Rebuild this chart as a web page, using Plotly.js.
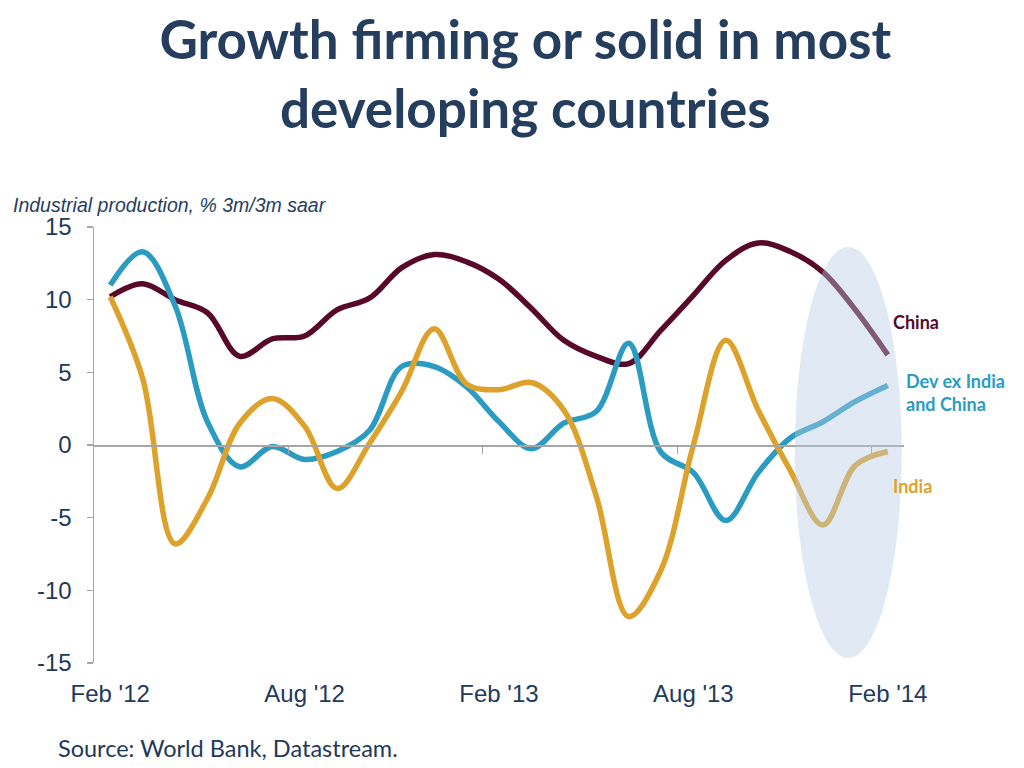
<!DOCTYPE html>
<html>
<head>
<meta charset="utf-8">
<script src="https://cdn.plot.ly/plotly-3.0.1.min.js"></script>
<style>
  html, body { margin: 0; padding: 0; background: #ffffff; }
  #chart { width: 1024px; height: 768px; }
</style>
</head>
<body>
<div id="chart"></div>
<script>
// Monthly observations, Feb 2012 .. Feb 2014
const months = ["Feb-12","Mar-12","Apr-12","May-12","Jun-12","Jul-12","Aug-12","Sep-12","Oct-12","Nov-12","Dec-12","Jan-13",
                "Feb-13","Mar-13","Apr-13","May-13","Jun-13","Jul-13","Aug-13","Sep-13","Oct-13","Nov-13","Dec-13","Jan-14","Feb-14"];
const china   = [10.2, 11.1, 10.0, 9.1, 6.1, 7.3, 7.5, 9.3, 10.1, 12.2, 13.1, 12.6, 11.4, 9.4, 7.2, 6.1, 5.6, 7.9, 10.3, 12.7, 13.9, 13.3, 11.9, 9.3, 6.2];
const devExIC = [11.0, 13.3, 9.6, 1.6, -1.5, -0.1, -1.0, -0.45, 1.0, 5.4, 5.4, 4.0, 1.6, -0.25, 1.5, 2.3, 7.0, -0.5, -1.9, -5.2, -1.9, 0.5, 1.6, 3.0, 4.1];
const india   = [10.2, 4.6, -6.8, -3.7, 1.5, 3.2, 1.3, -3.0, 0.1, 3.7, 8.0, 4.2, 3.8, 4.3, 2.4, -3.5, -11.8, -8.6, 0.0, 7.2, 2.4, -1.8, -5.5, -1.4, -0.45];

const tickPos  = [0, 6, 12, 18, 24];
const tickText = ["Feb '12", "Aug '12", "Feb '13", "Aug '13", "Feb '14"];
const yTicks   = [15, 10, 5, 0, -5, -10, -15];
const yTickText = ["15", "10", "5", "0", "-5", "-10", "-15"];
const minorTickPos = [5.5, 11.5, 17.5, 23.5];

const xIdx = months.map((m, i) => i);

const navy = '#22395a';
const cChina = '#58092a';
const cDev = '#2b9bc2';
const cIndia = '#dca22c';

function series(name, y, color) {
  return {
    type: 'scatter', mode: 'lines', name: name,
    x: xIdx, y: y,
    line: { color: color, width: 5.5, shape: 'spline', smoothing: 1 },
    hoverinfo: 'x+y+name', showlegend: false
  };
}

const data = [
  series('China', china, cChina),
  series('Dev ex India and China', devExIC, cDev),
  series('India', india, cIndia),
  { type: 'scatter', mode: 'lines', x: [], y: [], xaxis: 'x2', yaxis: 'y', showlegend: false, hoverinfo: 'skip' }
];

const layout = {
  width: 1024, height: 768,
  paper_bgcolor: '#ffffff', plot_bgcolor: 'rgba(0,0,0,0)',
  margin: { l: 94, r: 120, t: 227, b: 105 },
  showlegend: false,
  title: {
    text: 'Growth firming or solid in most<br>developing countries',
    font: { family: 'Lato, "Open Sans", sans-serif', size: 53, color: '#253e5e', weight: 700 },
    xref: 'container', yref: 'container', x: 0.513, xanchor: 'center', y: 0.9235, yanchor: 'top'
  },
  xaxis: {
    range: [-0.5, 24.5], fixedrange: true,
    showgrid: false, zeroline: false, showline: false,
    tickmode: 'array', tickvals: tickPos, ticktext: tickText, ticks: '',
    ticklabelstandoff: 14,
    tickfont: { family: '"Liberation Sans", Arial, sans-serif', size: 24, color: navy }
  },
  xaxis2: {
    overlaying: 'x', anchor: 'free', position: 0.5, side: 'bottom',
    range: [-0.5, 24.5], fixedrange: true,
    showgrid: false, zeroline: false, showline: true, linecolor: '#a6a6a6', linewidth: 1.5,
    tickmode: 'array', tickvals: minorTickPos, ticks: 'outside', ticklen: 7, tickwidth: 1.2, tickcolor: '#a6a6a6',
    showticklabels: false
  },
  yaxis: {
    range: [-15, 15], fixedrange: true,
    showgrid: false, zeroline: false, showline: true, linecolor: '#a6a6a6', linewidth: 1.5,
    tickmode: 'array', tickvals: yTicks, ticktext: yTickText, ticks: 'outside', ticklen: 6, tickwidth: 1.2, tickcolor: '#a6a6a6',
    ticklabelstandoff: 10,
    tickfont: { family: '"Liberation Sans", Arial, sans-serif', size: 24, color: navy }
  },
  shapes: [
    { type: 'circle', xref: 'x', yref: 'y', x0: 21.13, x1: 24.43, y0: -14.66, y1: 13.63,
      fillcolor: 'rgba(184,204,228,0.42)', line: { width: 0 }, layer: 'above' }
  ],
  annotations: [
    { text: 'Industrial production, % 3m/3m saar', xref: 'paper', yref: 'paper', x: -0.103, xanchor: 'left',
      y: 1.0, yanchor: 'bottom', yshift: 9, showarrow: false,
      font: { family: '"Liberation Sans", Arial, sans-serif', size: 19.5, color: '#253e5e', style: 'italic' } },
    { text: '<b>China</b>', xref: 'paper', yref: 'paper', x: 0.984, xanchor: 'left', y: 0.781, yanchor: 'middle', showarrow: false,
      font: { family: 'Lato, "Open Sans", sans-serif', size: 18, color: cChina } },
    { text: '<b>Dev ex India<br>and China</b>', xref: 'paper', yref: 'paper', x: 0.9995, xanchor: 'left', y: 0.621, yanchor: 'middle', align: 'left', showarrow: false,
      font: { family: 'Lato, "Open Sans", sans-serif', size: 18, color: cDev } },
    { text: '<b>India</b>', xref: 'paper', yref: 'paper', x: 0.984, xanchor: 'left', y: 0.407, yanchor: 'middle', showarrow: false,
      font: { family: 'Lato, "Open Sans", sans-serif', size: 18, color: cIndia } },
    { text: 'Source: World Bank, Datastream.', xref: 'paper', yref: 'paper', x: -0.047, xanchor: 'left',
      y: -0.195, yanchor: 'middle', showarrow: false,
      font: { family: 'Lato, "Open Sans", sans-serif', size: 23.5, color: navy } }
  ]
};

Plotly.newPlot('chart', data, layout, { staticPlot: true, displayModeBar: false });
</script>
</body>
</html>
